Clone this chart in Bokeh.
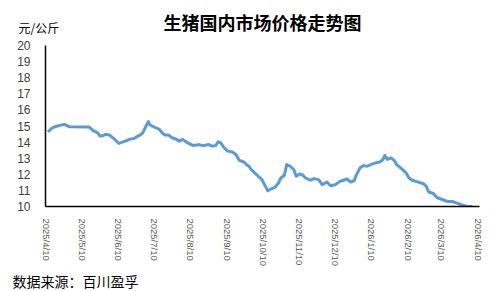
import datetime as dt
from bokeh.plotting import figure
from bokeh.layouts import column
from bokeh.models import FixedTicker, Range1d
from bokeh.core.properties import value
from bokeh.embed import file_html
from bokeh.resources import INLINE

# ---- data ----
dates = [
    "2025-04-11", "2025-04-15", "2025-04-19", "2025-04-25", "2025-04-29",
    "2025-05-16", "2025-05-19", "2025-05-23", "2025-05-25", "2025-05-27",
    "2025-05-30", "2025-06-02", "2025-06-04", "2025-06-07", "2025-06-10",
    "2025-06-13", "2025-06-17", "2025-06-20", "2025-06-23", "2025-06-27",
    "2025-06-30", "2025-07-01", "2025-07-03", "2025-07-05", "2025-07-06",
    "2025-07-08", "2025-07-11", "2025-07-14", "2025-07-17", "2025-07-19",
    "2025-07-22", "2025-07-25", "2025-07-28", "2025-07-31", "2025-08-03",
    "2025-08-05", "2025-08-08", "2025-08-11", "2025-08-14", "2025-08-17",
    "2025-08-19", "2025-08-22", "2025-08-25", "2025-08-28", "2025-08-31",
    "2025-09-02", "2025-09-04", "2025-09-07", "2025-09-10", "2025-09-14",
    "2025-09-17", "2025-09-20", "2025-09-22", "2025-09-24", "2025-09-26",
    "2025-09-28", "2025-09-30", "2025-10-03", "2025-10-09", "2025-10-12",
    "2025-10-14", "2025-10-17", "2025-10-20", "2025-10-23", "2025-10-25",
    "2025-10-28", "2025-10-30", "2025-11-02", "2025-11-05", "2025-11-07",
    "2025-11-10", "2025-11-12", "2025-11-15", "2025-11-19", "2025-11-22",
    "2025-11-26", "2025-11-29", "2025-12-03", "2025-12-06", "2025-12-10",
    "2025-12-14", "2025-12-17", "2025-12-20", "2025-12-23", "2025-12-26",
    "2025-12-28", "2025-12-31", "2026-01-03", "2026-01-06", "2026-01-09",
    "2026-01-13", "2026-01-16", "2026-01-19", "2026-01-21", "2026-01-23",
    "2026-01-26", "2026-01-29", "2026-01-31", "2026-02-05", "2026-02-08",
    "2026-02-10", "2026-02-13", "2026-02-19", "2026-02-23", "2026-02-25",
    "2026-02-27", "2026-03-03", "2026-03-06", "2026-03-11", "2026-03-15",
    "2026-03-19", "2026-03-23", "2026-03-27", "2026-03-31", "2026-04-05",
]
prices = [
    14.64, 14.90, 15.00, 15.10, 14.96,
    14.94, 14.73, 14.58, 14.38, 14.38,
    14.48, 14.44, 14.33, 14.13, 13.92,
    14.00, 14.10, 14.20, 14.23, 14.40,
    14.55, 14.69, 15.00, 15.27, 15.10,
    15.00, 14.90, 14.81, 14.55, 14.44,
    14.44, 14.27, 14.20, 14.06, 14.17,
    14.06, 13.92, 13.81, 13.81, 13.85,
    13.79, 13.80, 13.85, 13.75, 13.79,
    14.02, 13.96, 13.65, 13.44, 13.38,
    13.23, 12.86, 12.81, 12.75, 12.60,
    12.50, 12.29, 12.08, 11.67, 11.25,
    10.98, 11.10, 11.19, 11.46, 11.77,
    11.94, 12.60, 12.50, 12.29, 11.88,
    12.02, 11.98, 11.77, 11.63, 11.73,
    11.67, 11.35, 11.52, 11.29, 11.35,
    11.56, 11.63, 11.71, 11.52, 11.60,
    11.98, 12.40, 12.54, 12.50, 12.60,
    12.71, 12.75, 12.88, 13.17, 12.92,
    13.02, 12.86, 12.60, 12.29, 12.08,
    11.81, 11.63, 11.50, 11.40, 11.25,
    10.90, 10.81, 10.56, 10.42, 10.31,
    10.31, 10.21, 10.10, 10.02, 10.00,
]
tick_dates = [
    "2025-04-10", "2025-05-10", "2025-06-10", "2025-07-10", "2025-08-10",
    "2025-09-10", "2025-10-10", "2025-11-10", "2025-12-10", "2026-01-10",
    "2026-02-10", "2026-03-10", "2026-04-10",
]
tick_labels = [
    "2025/4/10", "2025/5/10", "2025/6/10", "2025/7/10", "2025/8/10",
    "2025/9/10", "2025/10/10", "2025/11/10", "2025/12/10", "2026/1/10",
    "2026/2/10", "2026/3/10", "2026/4/10",
]
y_ticks = [10, 11, 12, 13, 14, 15, 16, 17, 18, 19, 20]
title_text = "生猪国内市场价格走势图"
unit_text = "元/公斤"
source_text = "数据来源：百川盈孚"

# ---- layout constants (pixels) ----
W = 495
BL, BR = 45, 16          # main chart left/right borders
HEAD_H = 40              # header strip (title + unit)
MAIN_H = 229             # main chart
FOOT_H = 22              # footer strip (source)
CJK = "Noto Sans CJK SC"


def to_dt(s):
    return dt.datetime.strptime(s, "%Y-%m-%d")


def to_ms(s):
    return (to_dt(s) - dt.datetime(1970, 1, 1)).total_seconds() * 1000.0


def text_strip(h):
    # a strip whose frame is the whole canvas: x/y ranges map to canvas pixels
    f = figure(width=W, height=h, output_backend="svg", toolbar_location=None,
               x_range=Range1d(0, W), y_range=Range1d(h, 0),
               x_axis_location=None, y_axis_location=None,
               min_border=0, frame_align=False,
               background_fill_color="white", border_fill_color="white")
    f.outline_line_color = None
    f.grid.visible = False
    return f


# header
head = text_strip(HEAD_H)
head.text(x=[262], y=[21], text=[title_text], text_font=value(CJK),
          text_font_style="bold", text_font_size="18px",
          text_align="center", text_baseline="middle", text_color="black")
head.text(x=[18], y=[27], text=[unit_text], text_font=value(CJK),
          text_font_size="12px", text_align="left", text_baseline="middle",
          text_color="black")

# main chart
xs = [to_dt(d) for d in dates]
p = figure(
    width=W, height=MAIN_H, output_backend="svg", toolbar_location=None,
    x_axis_type="datetime",
    x_range=Range1d(to_dt("2025-04-09"), to_dt("2026-04-11")),
    y_range=Range1d(10, 20),
    min_border_left=BL, min_border_right=BR, min_border_top=5, min_border_bottom=63,
    frame_align=False,
    background_fill_color="white", border_fill_color="white",
)
p.outline_line_color = None
p.grid.visible = False

p.line(xs, prices, line_color="#5B9BD5", line_width=3, line_join="round")

tick_ms = [to_ms(d) for d in tick_dates]
p.xaxis.ticker = FixedTicker(ticks=tick_ms)
p.xaxis.major_label_overrides = {t: l for t, l in zip(tick_ms, tick_labels)}
p.xaxis.major_label_orientation = "vertical"
p.xaxis.major_label_text_font = "Liberation Sans"
p.xaxis.major_label_text_font_size = "9.5px"
p.xaxis.major_label_text_color = "#595959"
p.xaxis.major_label_standoff = 6
p.xaxis.major_tick_line_color = None
p.xaxis.minor_tick_line_color = None
p.xaxis.axis_line_color = "black"
p.xaxis.axis_line_width = 1.5

p.yaxis.ticker = FixedTicker(ticks=y_ticks)
p.yaxis.major_label_text_font = "Liberation Sans"
p.yaxis.major_label_text_font_size = "12px"
p.yaxis.major_label_text_color = "#404040"
p.yaxis.major_label_standoff = 9
p.yaxis.major_tick_line_color = None
p.yaxis.minor_tick_line_color = None
p.yaxis.axis_line_color = "black"
p.yaxis.axis_line_width = 1.5

# footer
foot = text_strip(FOOT_H)
foot.text(x=[12], y=[11], text=[source_text], text_font=value(CJK),
          text_font_size="14px", text_align="left", text_baseline="middle",
          text_color="black")

layout = column(head, p, foot, spacing=0)
open("out.html", "w").write(file_html(layout, INLINE))
